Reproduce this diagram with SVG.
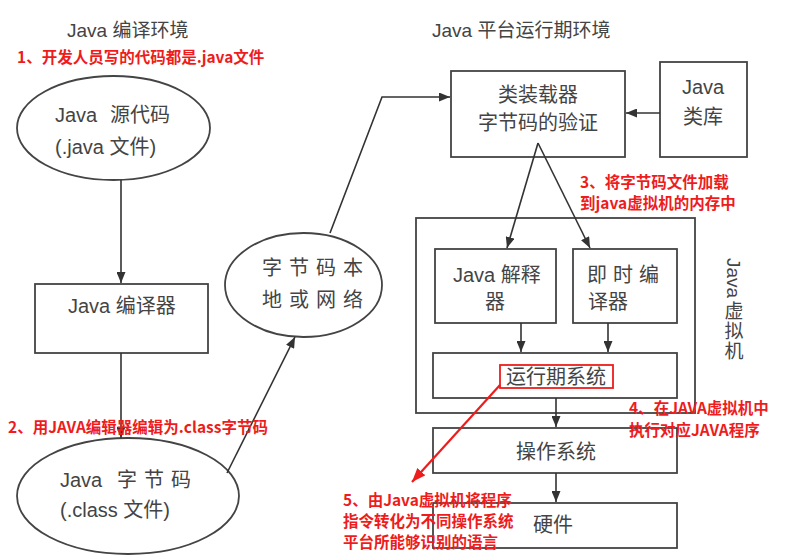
<svg xmlns="http://www.w3.org/2000/svg" width="803" height="557" viewBox="0 0 803 557">
<defs>
<marker id="ah" markerUnits="userSpaceOnUse" markerWidth="11" markerHeight="9" refX="11" refY="4.5" orient="auto"><path d="M0,0 L11,4.5 L0,9 z" fill="#333"/></marker>
<marker id="ahr" markerUnits="userSpaceOnUse" markerWidth="14" markerHeight="11" refX="14" refY="5.5" orient="auto"><path d="M0,0 L14,5.5 L0,11 z" fill="#ee1c1c"/></marker>
</defs>
<style>
.g{font-family:"Liberation Sans","Noto Sans CJK SC",sans-serif;font-size:20px;fill:#444}
.t{font-family:"Liberation Sans","Noto Sans CJK SC",sans-serif;font-size:19px;fill:#444}
.r{font-family:"Noto Sans CJK SC","Liberation Sans",sans-serif;font-size:15.5px;font-weight:bold;fill:#ee1c1c}
.s{fill:#fff;stroke:#444;stroke-width:1.8}
.c{fill:none;stroke:#333;stroke-width:1.6;marker-end:url(#ah)}
.m{text-anchor:middle}
</style>
<rect width="803" height="557" fill="#fff"/>
<g id="titles">
<text class="t" x="67" y="37">Java 编译环境</text>
<text class="t" x="432" y="37">Java 平台运行期环境</text>
</g>
<g id="src">
<ellipse class="s" cx="113.5" cy="128" rx="96.5" ry="52"/>
<text class="g" x="55" y="122">Java</text><text class="g" x="110" y="122">源代码</text>
<text class="g" x="55" y="154">(.java 文件)</text>
</g>
<g id="compiler">
<rect class="s" x="35" y="284" width="173" height="69"/>
<text class="g" x="68" y="313">Java 编译器</text>
</g>
<g id="bytecode">
<ellipse class="s" cx="128" cy="496" rx="111" ry="58"/>
<text class="g" x="60" y="487">Java</text><text class="g" x="117" y="487" letter-spacing="7">字节码</text>
<text class="g" x="60" y="517">(.class 文件)</text>
</g>
<g id="net">
<ellipse class="s" cx="303.5" cy="285" rx="78.5" ry="52"/>
<text class="g" x="262" y="275" letter-spacing="7">字节码本</text>
<text class="g" x="262" y="307" letter-spacing="7">地或网络</text>
</g>
<g id="loader">
<rect class="s" x="451" y="71" width="174" height="86"/>
<text class="g m" x="538" y="102">类装载器</text>
<text class="g m" x="538" y="130">字节码的验证</text>
</g>
<g id="lib">
<rect class="s" x="660" y="62" width="87" height="95"/>
<text class="g m" x="703" y="94">Java</text>
<text class="g m" x="703" y="124">类库</text>
</g>
<g id="jvm">
<rect class="s" x="416" y="218" width="279" height="195"/>
<text class="t" transform="translate(727,258) rotate(90)">Java</text>
<text class="t m" x="734" y="318">虚</text>
<text class="t m" x="734" y="338">拟</text>
<text class="t m" x="734" y="358">机</text>
</g>
<g id="interp">
<rect class="s" x="435" y="249" width="121" height="74"/>
<text class="g" x="453" y="282">Java 解释</text>
<text class="g m" x="495" y="309">器</text>
</g>
<g id="jit">
<rect class="s" x="573" y="249" width="104" height="74"/>
<text class="g" x="587" y="282" letter-spacing="6">即时编</text>
<text class="g" x="588" y="309">译器</text>
</g>
<g id="runtime">
<rect class="s" x="433" y="353" width="244" height="45"/>
<rect x="500" y="365" width="113" height="23" fill="none" stroke="#ee1c1c" stroke-width="1.8"/>
<text class="g m" x="556" y="384">运行期系统</text>
</g>
<g id="os">
<rect class="s" x="433" y="428" width="244" height="45"/>
<text class="g m" x="556" y="459">操作系统</text>
</g>
<g id="hw">
<rect class="s" x="433" y="503" width="244" height="45"/>
<text class="g m" x="553" y="532">硬件</text>
</g>
<g id="connectors">
<line class="c" x1="121" y1="180" x2="121" y2="283"/>
<line class="c" x1="121" y1="353" x2="121" y2="438"/>
<line class="c" x1="227" y1="473" x2="295" y2="337"/>
<polyline class="c" points="330,233 382,97 450,97"/>
<line class="c" x1="660" y1="113" x2="626" y2="113"/>
<line class="c" x1="538" y1="143" x2="507" y2="248"/>
<line class="c" x1="538" y1="143" x2="590" y2="248"/>
<line class="c" x1="521" y1="323" x2="521" y2="352"/>
<line class="c" x1="608" y1="323" x2="608" y2="352"/>
<line class="c" x1="556" y1="398" x2="556" y2="427"/>
<line class="c" x1="556" y1="473" x2="556" y2="502"/>
<line x1="500" y1="385" x2="412" y2="482" stroke="#ee1c1c" stroke-width="2.2" marker-end="url(#ahr)"/>
</g>
<g id="notes">
<text class="r" x="17" y="63">1、开发人员写的代码都是.java文件</text>
<text class="r" x="8" y="433">2、用JAVA编辑器编辑为.class字节码</text>
<text class="r" x="580" y="188">3、将字节码文件加载</text>
<text class="r" x="580" y="209">到java虚拟机的内存中</text>
<text class="r" x="629" y="414">4、在JAVA虚拟机中</text>
<text class="r" x="629" y="436">执行对应JAVA程序</text>
<text class="r" x="343" y="506">5、由Java虚拟机将程序</text>
<text class="r" x="343" y="527">指令转化为不同操作系统</text>
<text class="r" x="343" y="548">平台所能够识别的语言</text>
</g>
</svg>
